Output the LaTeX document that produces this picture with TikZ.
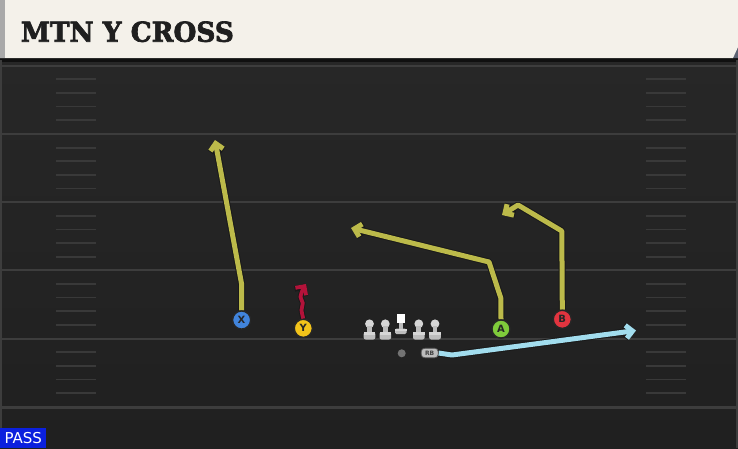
\documentclass[tikz,border=0pt]{standalone}
\usepackage{fontspec}
\newfontfamily\titlefont[BoldFeatures={FakeBold=2.5}]{DejaVu Serif}
\newfontfamily\labelfont{DejaVu Sans}
\usetikzlibrary{arrows.meta}
\definecolor{fieldtop}{HTML}{282828}
\definecolor{fieldbot}{HTML}{202020}
\definecolor{majorline}{HTML}{3D3D3D}
\definecolor{hashline}{HTML}{393939}
\definecolor{cream}{HTML}{F4F1EA}
\definecolor{headgray}{HTML}{A9A9A9}
\definecolor{cornerblue}{HTML}{5C6272}
\definecolor{routeyel}{HTML}{BCBA4A}
\definecolor{routered}{HTML}{B3133A}
\definecolor{routeblue}{HTML}{A2DDEE}
\definecolor{xblue}{HTML}{4184DC}
\definecolor{yyel}{HTML}{F2C31A}
\definecolor{agreen}{HTML}{7FCB3B}
\definecolor{bred}{HTML}{E2343F}
\definecolor{olgray}{HTML}{BDBDBD}
\definecolor{oltop}{HTML}{D6D6D6}
\definecolor{passblue}{HTML}{0B20DE}
\begin{document}
\begin{tikzpicture}[x=1pt,y=-1pt,
  player/.style={circle, draw=black!85, line width=1.3pt, minimum size=18pt, inner sep=0pt,
    font=\labelfont\bfseries\fontsize{10}{10}\selectfont, text=black!85},
  outl/.style={draw=black!90, line width=7pt, line join=round,
    -{Straight Barb[length=6.5pt,width=13pt]}},
  route/.style={line width=5pt, line join=round,
    -{Straight Barb[length=6.5pt,width=13pt]}},
  majline/.style={draw=majorline, line width=2.2pt},
  hashmark/.style={draw=hashline, line width=1.8pt},
  olpart/.style={fill=olgray},
  rbtag/.style={fill=olgray, draw=black!70, line width=0.6pt, rounded corners=3.5pt,
    minimum width=17pt, minimum height=9.5pt, inner sep=0pt,
    font=\labelfont\bfseries\fontsize{6}{6}\selectfont, text=black!75}
]
\useasboundingbox (0,0) rectangle (738,448);
% field
\shade[top color=fieldtop, bottom color=fieldbot] (0,0) rectangle (738,448);
\fill[black!60!fieldtop] (0,58) rectangle (738,62);
\fill[majorline] (0,60) rectangle (2,448);
\fill[majorline] (736,60) rectangle (738,448);
% yard lines
\foreach \y in {65.7,134,202.3,270.3,338.6,407.5} {
  \draw[majline] (2,\y) -- (736,\y);
}
% hash marks
\foreach \y in {65.7,134,202.3,270.3,338.6} {
  \foreach \k in {1,2,3,4} {
    \draw[hashmark] (56,\y+13.6*\k) -- (96,\y+13.6*\k);
    \draw[hashmark] (646,\y+13.6*\k) -- (686,\y+13.6*\k);
  }
}
% header
\fill[cornerblue] (728,40) -- (738,40) -- (738,58) -- (732,58) -- cycle;
\fill[cream] (0,0) -- (738,0) -- (738,47) -- (733,58) -- (0,58) -- cycle;
\fill[headgray] (0,0) rectangle (5,58);
\node[anchor=base west, inner sep=0pt, xscale=0.96, text=black!88,
  font=\titlefont\bfseries\fontsize{27.4}{30}\selectfont] (title) at (20.7,41.7) {MTN Y CROSS};
% PASS tag
\node[fill=passblue, anchor=south west, minimum width=46pt, minimum height=19.7pt, inner sep=0pt,
  text=white, font=\labelfont\fontsize{15}{15}\selectfont] (pass) at (0,448) {PASS};
% offensive line
\foreach \x in {369.5,385.3,418.8,435} {
  \fill[olpart] (\x-2.4,325) rectangle (\x+2.4,334);
  \fill[olpart, rounded corners=2pt] (\x-5.8,332) rectangle (\x+5.8,339.5);
  \fill[oltop] (\x-5.8,332) rectangle (\x+5.8,334.5);
  \fill[oltop] (\x,323.8) circle (4.4);
  \fill[olgray] (\x-2.4,325.5) rectangle (\x+2.4,328.2);
}
\fill[olpart] (399,322) rectangle (402.8,330);
\fill[olpart, rounded corners=1.5pt] (395,328.7) rectangle (406.7,334);
\fill[oltop] (395,328.7) rectangle (406.7,330.7);
\fill[white] (396.7,314) rectangle (405,323);
% backs
\node[circle, fill=black!55, minimum size=8pt, inner sep=0pt] (QB) at (401.7,353.3) {};
\node[rbtag] (RB) at (429.7,353) {RB};
% receivers
\node[player, fill=xblue] (X) at (241.6,320) {X};
\node[player, fill=yyel] (Y) at (303.3,328.3) {Y};
\node[player, fill=agreen] (A) at (501,329) {A};
\node[player, fill=bred] (B) at (562.3,319.3) {B};
% route waypoints
\coordinate (x1) at (241.6,284);
\coordinate (xt) at (215,140);
\coordinate (y1) at (301.5,310);
\coordinate (y2) at (302.8,303);
\coordinate (y3) at (300.5,297);
\coordinate (y4) at (303,289);
\coordinate (yt) at (306,284);
\coordinate (a1) at (500.8,298);
\coordinate (a2) at (489,262);
\coordinate (at) at (351,228);
\coordinate (b1) at (561.8,231);
\coordinate (b2) at (518,205);
\coordinate (bt) at (502,215);
\coordinate (r1) at (452,355);
\coordinate (rt) at (636,330.5);
% routes (outline then colour)
\draw[outl] (X.north) -- (x1) -- (xt);
\draw[route, draw=routeyel] (X.north) -- (x1) -- (xt);
\draw[outl] (A.north) -- (a1) -- (a2) -- (at);
\draw[route, draw=routeyel] (A.north) -- (a1) -- (a2) -- (at);
\draw[outl] (B.north) -- (b1) -- (b2) -- (bt);
\draw[route, draw=routeyel] (B.north) -- (b1) -- (b2) -- (bt);
\draw[outl, line width=5.6pt] plot[smooth] coordinates {(Y.north) (y1) (y2) (y3) (y4) (yt)};
\draw[route, draw=routered, line width=3.8pt] plot[smooth] coordinates {(Y.north) (y1) (y2) (y3) (y4) (yt)};
\draw[outl] (RB.east) -- (r1) -- (rt);
\draw[route, draw=routeblue] (RB.east) -- (r1) -- (rt);
% redraw players on top of route starts
\node[player, fill=xblue] at (X) {X};
\node[player, fill=yyel] at (Y) {Y};
\node[player, fill=agreen] at (A) {A};
\node[player, fill=bred] at (B) {B};
\node[rbtag] at (RB) {RB};
\end{tikzpicture}
\end{document}
